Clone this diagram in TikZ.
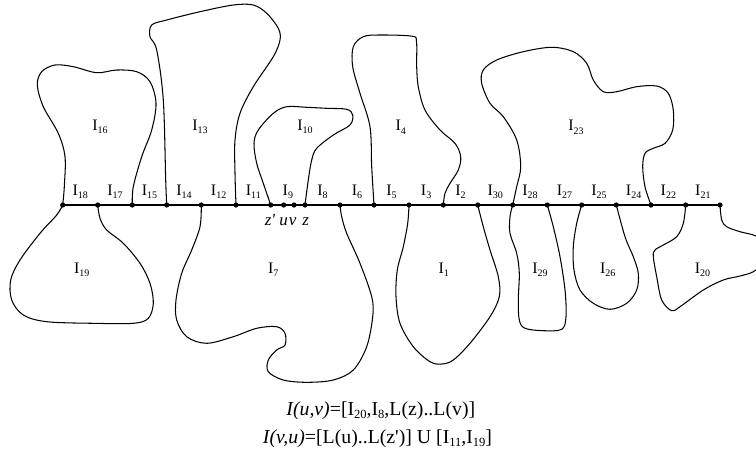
\documentclass[tikz,border=0pt]{standalone}
\usepackage{fontspec}
\setmainfont{Liberation Serif}
\usetikzlibrary{calc}
\newcommand{\Isub}[1]{I\raisebox{-3.5pt}{\fontsize{10}{10}\selectfont #1}}
\newcommand{\Ibig}[1]{I\raisebox{-3.3pt}{\fontsize{12.5}{13}\selectfont #1}}
\tikzset{
  region/.style={line width=1.05pt, line join=round, line cap=round},
  axisline/.style={line width=2.8pt},
  dot/.style={circle, fill=black, inner sep=0pt, minimum size=5.2pt},
  seglab/.style={font=\fontsize{16}{18}\selectfont, anchor=base, inner sep=0pt},
  reglab/.style={font=\fontsize{16}{18}\selectfont, anchor=base, inner sep=0pt},
  ptlab/.style={font=\fontsize{17}{18}\selectfont\itshape, anchor=base, inner sep=0pt},
  formula/.style={font=\fontsize{19.8}{22}\selectfont, anchor=base, inner sep=0pt},
}
\begin{document}
\begin{tikzpicture}[x=1pt,y=-1pt]
\useasboundingbox (0,0) rectangle (756,456);
% points on the line
\foreach \n/\x in {d1/62.7,d2/97.7,d3/132.3,d4/166.7,d5/201.3,d6/236,d7/270.7,u/283.7,v/294,d8/305,d9/340,d10/374,d11/409,d12/443.3,d13/477.7,d14/512.7,d15/547.3,d16/581.7,d17/616.3,d18/651,d19/685.7,d20/720}
  \coordinate (\n) at (\x,205);
\draw[axisline] (d1) -- (d20);
% upper regions
\draw[region] plot[smooth,tension=0.55] coordinates {(d1) (64.3,186.7) (65,156.7) (58.3,133.3) (43.3,106.7) (37.3,85) (41.7,71.7) (55,65) (73.3,66.7) (96.7,72.7) (116.7,70) (136.7,71.7) (150,81.7) (156,103.3) (151.7,130) (141.7,156.7) (133.3,186.7) (d3)};
\draw[region] plot[smooth,tension=0.55] coordinates {(d4) (165.7,180) (163.3,100) (156.7,50) (150,36.7) (151.7,25) (166.7,20) (200,11.7) (233.3,5) (253.3,5) (266.7,13.3) (278.3,28.3) (280,40) (273.3,56.7) (253.3,86.7) (240,113.3) (235,140) (235,173.3) (d6)};
\draw[region] plot[smooth,tension=0.55] coordinates {(d7) (263.3,183.3) (256.7,163.3) (254,143.3) (258.3,130) (273.3,113.3) (286.7,106.7) (306.7,107.3) (326.7,108.3) (346.7,109.3) (352.7,115) (350,125) (333.3,135) (316.7,148.3) (311.7,160) (308.3,180) (d8)};
\draw[region] plot[smooth,tension=0.55] coordinates {(d10) (371.7,166.7) (370,126.7) (360,93.3) (352.7,66.7) (353.3,46.7) (363.3,36.7) (380,35) (412,36.2) (416.5,41.7) (416.7,66.7) (418.3,86.7) (425,110) (440,130) (455,143.3) (460.7,156.7) (458.3,170) (450,183.3) (445,193.3) (d12)};
\draw[region] plot[smooth,tension=0.55] coordinates {(d14) (516.7,186.7) (520.7,166.7) (516.7,140) (503.3,116.7) (490,103.3) (481.7,83.3) (483.3,70) (496.7,60) (523.3,51.7) (551.7,47.3) (573.3,51.7) (586.7,63.3) (593.3,80) (603.3,91.7) (616.7,91.7) (636.7,86.7) (656.7,86) (668.3,93.3) (673.3,110) (672.7,130) (665,143.3) (653.3,148.3) (645,153.3) (642.7,166.7) (645,186.7) (d18)};
% lower regions
\draw[region] plot[smooth,tension=0.55] coordinates {(d1) (56.7,215) (40,233.3) (20,260) (10.7,280) (11.7,300) (23.3,315) (46.7,321.7) (93.3,323.3) (133.3,323.3) (148.3,318.3) (153.3,303.3) (150,283.3) (140,263.3) (123.3,243.3) (106.7,230) (100,218.3) (d2)};
\draw[region] plot[smooth,tension=0.55] coordinates {(d5) (200,226.7) (191.7,250) (181.7,273.3) (176,300) (176.7,320) (186.7,336.7) (206.7,343.3) (233.3,336.7) (256.7,328.3) (276.7,326.7) (285,333.3) (285,345) (276.7,350) (268.3,360) (268.3,371.7) (283.3,380) (306.7,382.3) (333.3,380) (353.3,370) (366.7,346.7) (372.7,316.7) (371.7,296.7) (360,263.3) (346.7,233.3) (341.7,216.7) (d9)};
\draw[region] plot[smooth,tension=0.55] coordinates {(d11) (407.7,223.3) (403.3,246.7) (397.3,270) (396,296.7) (400,323.3) (413.3,346.7) (430,361.7) (441.7,364) (453.3,360) (470,343.3) (490,316.7) (499.3,296.7) (498.3,276.7) (490,250) (483.3,226.7) (d13)};
\draw[region] plot[smooth,tension=0.55] coordinates {(d14) (510,216.7) (510,233.3) (516.7,253.3) (519.3,273.3) (518.3,300) (519.3,320) (525,328.3) (543.3,330.7) (561.7,329.3) (566,316.7) (565,290) (560,256.7) (553.3,226.7) (d15)};
\draw[region] plot[smooth,tension=0.55] coordinates {(d16) (576.7,223.3) (573.3,246.7) (574,270) (580,290) (593.3,303.3) (610,309.3) (626.7,303.3) (636.7,290) (638.3,273.3) (633.3,256.7) (625,236.7) (d17)};
\begin{scope}
\clip (0,0) rectangle (756,456);
\draw[region] plot[smooth,tension=0.55] coordinates {(d19) (683.3,223.3) (676.7,236.7) (663.3,245) (655,250) (653.3,256.7) (656.7,276.7) (661.7,300) (671.7,310.7) (680,306.7) (703.3,290) (723.3,280) (740,276) (753.3,271.7) (764,262) (766,245) (756,236) (740,231.7) (726.7,226.7) (721.7,220) (d20)};
\end{scope}
% dots
\foreach \n in {d1,d2,d3,d4,d5,d6,d7,u,v,d8,d9,d10,d11,d12,d13,d14,d15,d16,d17,d18,d19,d20}
  \node[dot] (dot-\n) at (\n) {};
% segment labels
\foreach \a/\b/\t in {d1/d2/18,d2/d3/17,d3/d4/15,d4/d5/14,d5/d6/12,d6/d7/11,d7/d8/9,d8/d9/8,d9/d10/6,d10/d11/5,d11/d12/3,d12/d13/2,d13/d14/30,d14/d15/28,d15/d16/27,d16/d17/25,d17/d18/24,d18/d19/22,d19/d20/21}
  \node[seglab] (s\t) at ($(\a)!0.5!(\b)+(0,-10)$) {\Isub{\t}};
% point labels
\node[ptlab] (lzp) at (270,225) {z\textquotesingle};
\node[ptlab] (lu) at (283.7,225) {u};
\node[ptlab] (lv) at (292.7,225) {v};
\node[ptlab] (lz) at (305.8,225) {z};
% region labels
\node[reglab] (r16) at (100,130) {\Isub{16}};
\node[reglab] (r13) at (200,130) {\Isub{13}};
\node[reglab] (r10) at (305,130) {\Isub{10}};
\node[reglab] (r4) at (400.8,130.7) {\Isub{4}};
\node[reglab] (r23) at (576,130.7) {\Isub{23}};
\node[reglab] (r19) at (81.7,273.3) {\Isub{19}};
\node[reglab] (r7) at (273.3,273.3) {\Isub{7}};
\node[reglab] (r1) at (443.7,273.3) {\Isub{1}};
\node[reglab] (r29) at (540,273.3) {\Isub{29}};
\node[reglab] (r26) at (607.7,273.3) {\Isub{26}};
\node[reglab] (r20) at (702.5,273.3) {\Isub{20}};
% formulas
\node[formula] (f1) at (380.8,415) {\textit{I(u,v)}=[\Ibig{20},\Ibig{8},L(z)..L(v)]};
\node[formula] (f2) at (377.5,443) {\textit{I(v,u)}=[L(u)..L(z\textquotesingle)] U [\Ibig{11},\Ibig{19}]};
\end{tikzpicture}
\end{document}
